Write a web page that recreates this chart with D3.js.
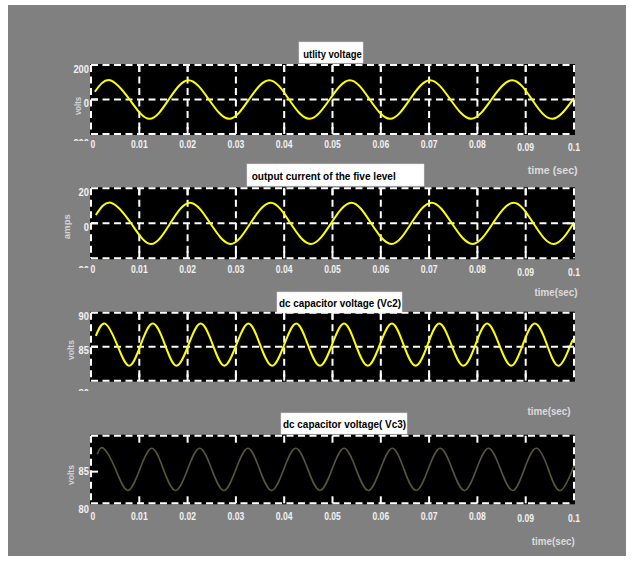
<!DOCTYPE html>
<html><head><meta charset="utf-8">
<script src="https://cdn.jsdelivr.net/npm/d3@7"></script>
<style>html,body{margin:0;padding:0;background:#fff;} svg{display:block;}</style>
</head><body>
<svg id="c" width="633" height="565"></svg>
<script>
// ---------- data ----------
const xTickValues = [0, 0.01, 0.02, 0.03, 0.04, 0.05, 0.06, 0.07, 0.08, 0.09, 0.1];
const xTickLabels = ["0", "0.01", "0.02", "0.03", "0.04", "0.05", "0.06", "0.07", "0.08", "0.09", "0.1"];
const titles = ["utlity  voltage", "output current of the five level", "dc capacitor voltage (Vc2)", "dc capacitor voltage( Vc3)"];
const yTitles = ["volts", "amps", "volts", "volts"];
const xTitles = ["time  (sec)", "time(sec)", "time(sec)", "time(sec)"];
const yTicks1 = [-200, 0, 200], yTickText1 = ["-200", "0", "200"];
const yTicks2 = [-20, 0, 20], yTickText2 = ["-20", "0", "20"];
const yTicks3 = [80, 85, 90], yTickText3 = ["80", "85", "90"];
const yTicks4 = [80, 85], yTickText4 = ["80", "85"];

// utility voltage (V) – key points
const t1 = [0.0008, 0.0039, 0.0080, 0.0121, 0.0161, 0.0202, 0.0244, 0.0286, 0.0327, 0.0369, 0.0410, 0.0452, 0.0494, 0.0536, 0.0577, 0.0619, 0.0660, 0.0702, 0.0744, 0.0787, 0.0829, 0.0872, 0.0913, 0.0955, 0.1000];
const v1 = [45, 112, 0, -112, 0, 112, 0, -112, 0, 112, 0, -112, 0, 112, 0, -112, 0, 112, 0, -112, 0, 112, 0, -112, 8];
// output current (A)
const t2 = [0.0010, 0.0041, 0.0083, 0.0124, 0.0164, 0.0205, 0.0247, 0.0289, 0.0330, 0.0372, 0.0413, 0.0455, 0.0497, 0.0539, 0.0580, 0.0622, 0.0663, 0.0705, 0.0747, 0.0790, 0.0832, 0.0875, 0.0916, 0.0958, 0.1000];
const v2 = [4.7, 11.8, 0, -11.8, 0, 11.8, 0, -11.8, 0, 11.8, 0, -11.8, 0, 11.8, 0, -11.8, 0, 11.8, 0, -11.8, 0, 11.8, 0, -11.8, 0.5];
// dc capacitor voltage Vc2 (V)
const t3 = [0.0010, 0.0029, 0.0054, 0.0079, 0.0103, 0.0128, 0.0153, 0.0177, 0.0202, 0.0227, 0.0252, 0.0276, 0.0301, 0.0326, 0.0350, 0.0375, 0.0400, 0.0425, 0.0449, 0.0474, 0.0499, 0.0524, 0.0548, 0.0573, 0.0598, 0.0623, 0.0647, 0.0672, 0.0697, 0.0721, 0.0746, 0.0771, 0.0796, 0.0820, 0.0845, 0.0870, 0.0894, 0.0919, 0.0944, 0.0969, 0.0993, 0.1000];
const v3 = [86.6,
  88.4, 85.3, 82.2, 85.3, 88.4, 85.3, 82.2, 85.3, 88.4, 85.3, 82.2, 85.3, 88.4, 85.3, 82.2, 85.3, 88.4, 85.3, 82.2, 85.3,
  88.4, 85.3, 82.2, 85.3, 88.4, 85.3, 82.2, 85.3, 88.4, 85.3, 82.2, 85.3, 88.4, 85.3, 82.2, 85.3, 88.4, 85.3, 82.2, 85.3,
  85.9];
// dc capacitor voltage Vc3 (V)
const t4 = [0.0013, 0.0026, 0.0051, 0.0076, 0.0101, 0.0126, 0.0150, 0.0175, 0.0200, 0.0225, 0.0250, 0.0275, 0.0300, 0.0325, 0.0349, 0.0374, 0.0399, 0.0424, 0.0449, 0.0474, 0.0499, 0.0524, 0.0549, 0.0574, 0.0599, 0.0624, 0.0648, 0.0673, 0.0698, 0.0723, 0.0748, 0.0773, 0.0798, 0.0823, 0.0848, 0.0873, 0.0897, 0.0922, 0.0947, 0.0972, 0.0997, 0.1000];
const v4 = [87.3,
  88.1, 85.3, 82.5, 85.3, 88.1, 85.3, 82.5, 85.3, 88.1, 85.3, 82.5, 85.3, 88.1, 85.3, 82.5, 85.3, 88.1, 85.3, 82.5, 85.3,
  88.1, 85.3, 82.5, 85.3, 88.1, 85.3, 82.5, 85.3, 88.1, 85.3, 82.5, 85.3, 88.1, 85.3, 82.5, 85.3, 88.1, 85.3, 82.5, 85.3,
  85.5];

// ---------- layout ----------
const svg = d3.select("#c");
const FONT = "'Liberation Sans', Arial, Helvetica, sans-serif";
svg.append("rect").attr("x", 8).attr("y", 5).attr("width", 618).attr("height", 551).attr("fill", "#808080");

const x = d3.scaleLinear().domain([0, 0.1]).range([91, 574]);

const panels = [
  {top: 65, bottom: 134, yDom: [-200, 200], yRange: [134, 65], ticks: yTicks1, tickText: yTickText1, clipVal: -200, clipY: 141, clipDy: 9, labDy: 4,
   grid: [0], rightTick: true, xLab: true, xLabY: 144, xT: [552.7, 170], xTW: 50, yT: [78, 106], yTW: 18,
   box: [299, 42, 64, 21], tX: 303.3, tW: 58.4, tB: 57.7, t: t1, v: v1, color: "#ffff00", lw: 2},
  {top: 188.3, bottom: 258.3, yDom: [-20, 20], yRange: [258.3, 188.3], ticks: yTicks2, tickText: yTickText2, clipVal: -20, clipY: 268, clipDy: 12, labDy: 4,
   grid: [0], rightTick: true, xLab: true, xLabY: 269.3, xT: [556, 292], xTW: 43, yT: [66.7, 226.7], yTW: 25,
   box: [247, 164, 177, 22], tX: 251.7, tW: 144, tB: 180, t: t2, v: v2, color: "#ffff00", lw: 2},
  {top: 312.7, bottom: 380.7, yDom: [80, 90], yRange: [380.7, 312.7], ticks: yTicks3, tickText: yTickText3, clipVal: 80, clipY: 391, clipDy: 12.5, labDy: 4,
   grid: [85], rightTick: true, xLab: false, xT: [549, 411.7], xTW: 43, yT: [70.7, 350], yTW: 20,
   box: [277, 292, 125, 21], tX: 279, tW: 122, tB: 306.7, t: t3, v: v3, color: "#ffff00", lw: 2},
  {top: 435.7, bottom: 503.3, yDom: [80, 90], yRange: [509.3, 434], ticks: yTicks4, tickText: yTickText4, clipVal: null, labDy: 0,
   grid: null, rightTick: false, xLab: true, xLabY: 515.7, xT: [553.3, 541.7], xTW: 43, yT: [70.7, 475], yTW: 20,
   box: [281, 413, 126, 21], tX: 283, tW: 123, tB: 428.3, t: t4, v: v4, color: "#56563a", lw: 1.6}
];

const defs = svg.append("defs");

panels.forEach((p, i) => {
  const g = svg.append("g");
  const y = d3.scaleLinear().domain(p.yDom).range(p.yRange);
  const L = x.range()[0], R = x.range()[1];

  // plot background
  g.append("rect").attr("x", L - 1).attr("y", p.top - 1).attr("width", R - L + 2).attr("height", p.bottom - p.top + 2).attr("fill", "#000");

  const dash = "7,4.5";
  const wline = (x1, y1, x2, y2, da) => g.append("line").attr("x1", x1).attr("y1", y1).attr("x2", x2).attr("y2", y2)
      .attr("stroke", "#fff").attr("stroke-width", 2).attr("stroke-dasharray", da);

  // grid
  if (p.grid) {
    xTickValues.slice(1, -1).forEach(tv => wline(x(tv), p.top, x(tv), p.bottom, dash));
    p.grid.forEach(gv => wline(L, y(gv), R, y(gv), dash));
  }
  // data line
  const line = d3.line().x(d => x(d[0])).y(d => y(d[1])).curve(d3.curveNatural);
  g.append("path").datum(p.t.map((tt, k) => [tt, p.v[k]])).attr("d", line)
    .attr("fill", "none").attr("stroke", p.color).attr("stroke-width", p.lw).attr("stroke-linejoin", "round");

  // dashed box
  wline(L, p.top, R, p.top, dash);
  wline(L, p.bottom, R, p.bottom, dash);
  wline(L, p.top, L, p.bottom, dash);
  wline(R, p.top, R, p.bottom, dash);

  // solid ticks
  xTickValues.slice(1, -1).forEach(tv => {
    wline(x(tv), p.top, x(tv), p.top + 7, null);
    wline(x(tv), p.bottom - 7, x(tv), p.bottom, null);
  });
  p.ticks.forEach(tv => {
    const yy = y(tv);
    if (yy > p.top + 1 && yy < p.bottom - 1) {
      wline(L, yy, L + 7, yy, null);
      if (p.rightTick) wline(R - 7, yy, R, yy, null);
    }
  });

  // y tick labels
  let clipG = null;
  if (p.clipVal !== null) {
    defs.append("clipPath").attr("id", "clip" + i).append("rect").attr("x", 0).attr("y", 0).attr("width", 633).attr("height", p.clipY);
    clipG = svg.append("g").attr("clip-path", `url(#clip${i})`);
  }
  p.ticks.forEach((tv, k) => {
    const clipped = tv === p.clipVal;
    const host = clipped ? clipG : svg;
    const yy = y(tv) + (clipped ? p.clipDy : p.labDy);
    host.append("text").attr("transform", `translate(89,${yy}) scale(0.85,1)`)
      .attr("text-anchor", "end").attr("dominant-baseline", "central")
      .attr("font-family", FONT).attr("font-weight", "bold").attr("font-size", 11).attr("fill", "#f2f2f2")
      .text(p.tickText[k]);
  });

  // x tick labels
  if (p.xLab) {
    xTickValues.forEach((tv, k) => {
      const xx = x(tv) + (k === 0 ? 2 : 0);
      const yy = p.xLabY + (k >= 9 ? 2.7 : 0);
      svg.append("text").attr("transform", `translate(${xx},${yy}) scale(0.78,1)`)
        .attr("text-anchor", "middle").attr("dominant-baseline", "central")
        .attr("font-family", FONT).attr("font-weight", "bold").attr("font-size", 11).attr("fill", "#f2f2f2")
        .text(xTickLabels[k]);
    });
  }

  // axis titles
  svg.append("text").attr("x", p.xT[0] - p.xTW / 2).attr("y", p.xT[1]).attr("dominant-baseline", "central")
    .attr("textLength", p.xTW).attr("lengthAdjust", "spacingAndGlyphs")
    .attr("font-family", FONT).attr("font-weight", "bold").attr("font-size", 10).attr("fill", "#dcdcdc")
    .text(xTitles[i]);
  svg.append("text").attr("transform", `translate(${p.yT[0]},${p.yT[1]}) rotate(-90)`)
    .attr("x", -p.yTW / 2).attr("y", 0).attr("dominant-baseline", "central")
    .attr("textLength", p.yTW).attr("lengthAdjust", "spacingAndGlyphs")
    .attr("font-family", FONT).attr("font-weight", "bold").attr("font-size", 9).attr("fill", "#d4d4d4")
    .text(yTitles[i]);

  // title box
  svg.append("rect").attr("x", p.box[0]).attr("y", p.box[1]).attr("width", p.box[2]).attr("height", p.box[3])
    .attr("fill", "#fff").attr("stroke", "#e4e4e4").attr("stroke-width", 0.5);
  svg.append("text").attr("x", p.tX).attr("y", p.tB)
    .attr("textLength", p.tW).attr("lengthAdjust", "spacingAndGlyphs")
    .attr("font-family", FONT).attr("font-weight", "bold").attr("font-size", 10.5).attr("fill", "#000")
    .text(titles[i]);
});
</script>
</body></html>
